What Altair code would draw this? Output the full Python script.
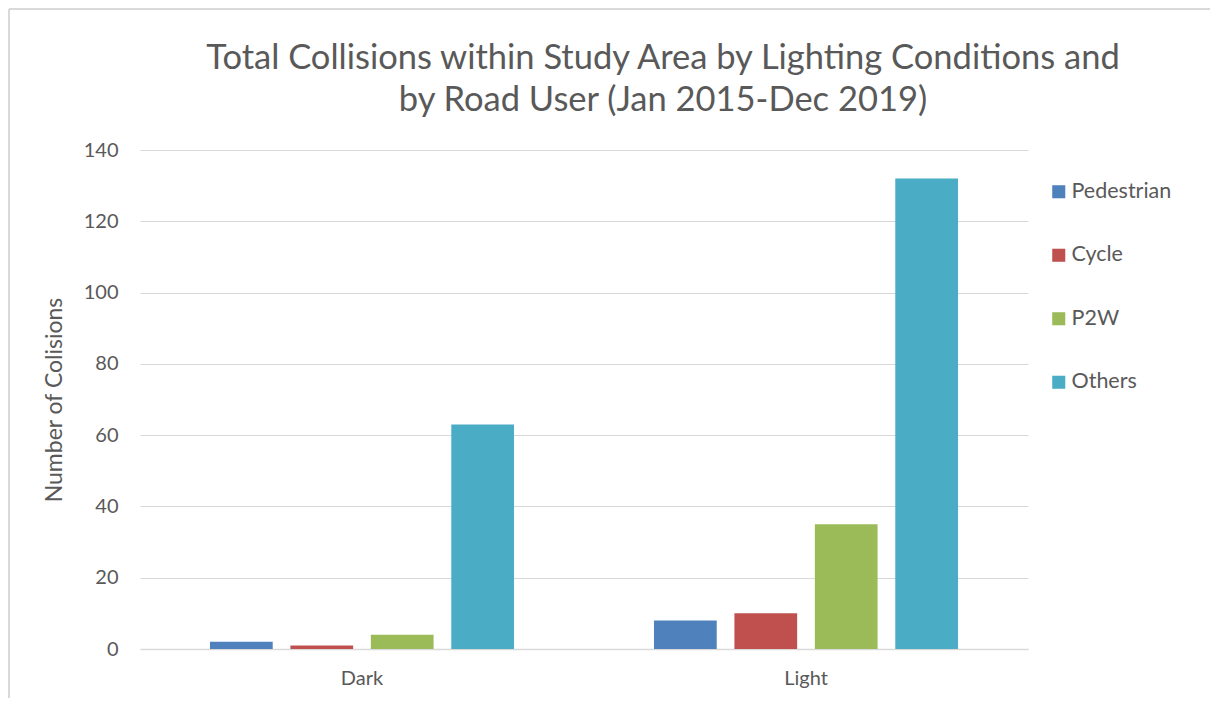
import altair as alt
import pandas as pd

conditions = ["Dark", "Light"]
road_users = ["Pedestrian", "Cycle", "P2W", "Others"]
dark_values = [2, 1, 4, 63]
light_values = [8, 10, 35, 132]
colors = ["#4F81BD", "#C0504D", "#9BBB59", "#4BACC6"]
y_ticks = [0, 20, 40, 60, 80, 100, 120, 140]

rows = []
for cond, vals in zip(conditions, [dark_values, light_values]):
    for user, v in zip(road_users, vals):
        rows.append({"Condition": cond, "Road User": user, "Collisions": v})
df = pd.DataFrame(rows)

FONT = "Lato"
GREY = "#595959"
FRAME = "#D9D9D9"

bars = alt.Chart(df).mark_bar().encode(
    x=alt.X("Condition:N", sort=conditions,
            scale=alt.Scale(paddingInner=0, paddingOuter=0),
            axis=alt.Axis(title=None, labelAngle=0, labelFontSize=20, labelColor=GREY,
                          labelFont=FONT, labelPadding=19, ticks=False,
                          domainColor=FRAME, domainWidth=1.5)),
    xOffset=alt.XOffset("Road User:N", sort=road_users,
                        scale=alt.Scale(paddingInner=0.22, paddingOuter=0.87)),
    y=alt.Y("Collisions:Q",
            scale=alt.Scale(domain=[0, 140], nice=False),
            axis=alt.Axis(title="Number of Colisions", values=y_ticks, domain=False, ticks=False,
                          labelFontSize=20, labelColor=GREY, labelFont=FONT, labelPadding=22,
                          titleFontSize=23, titleColor=GREY, titleFont=FONT, titleFontWeight="normal",
                          titlePadding=17, gridColor=FRAME, gridWidth=1.2)),
    color=alt.Color("Road User:N", sort=road_users,
                    scale=alt.Scale(domain=road_users, range=colors),
                    legend=alt.Legend(title=None, orient="none", legendX=908, legendY=31,
                                      symbolType="square", symbolSize=170, symbolStrokeWidth=0,
                                      labelFontSize=21.5, labelColor=GREY, labelFont=FONT,
                                      rowPadding=40.5, labelOffset=2)),
)

top_edge = alt.Chart(df).mark_rule(stroke=FRAME, strokeWidth=2, clip=False).encode(
    x=alt.value(-131), x2=alt.value(1070), y=alt.value(-141)
)
left_edge = alt.Chart(df).mark_rule(stroke=FRAME, strokeWidth=2, clip=False).encode(
    x=alt.value(-131), y=alt.value(-141), y2=alt.value(600)
)

chart = alt.layer(top_edge, left_edge, bars).properties(
    width=888,
    height=499,
    title=alt.TitleParams(
        text=["Total Collisions within Study Area by Lighting Conditions and",
              "by Road User (Jan 2015-Dec 2019)"],
        fontSize=34.5, font=FONT, fontWeight="normal", color=GREY,
        anchor="middle", frame="group", dx=79, dy=132, offset=22, lineHeight=42,
    ),
    autosize=alt.AutoSizeParams(type="none"),
    padding={"left": 132, "top": 142, "right": 183, "bottom": 49},
).configure_view(stroke=None)

chart.save("out.html", embed_options={"renderer": "svg", "actions": False})
